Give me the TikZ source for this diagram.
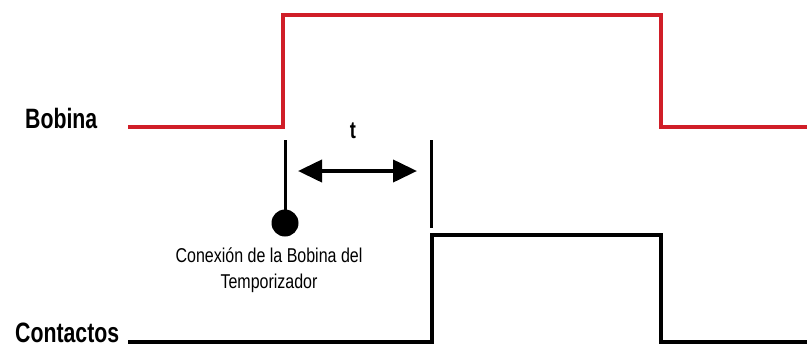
\documentclass[tikz,border=0pt]{standalone}
\usepackage{fontspec}
\setmainfont{Liberation Sans}
\newfontfamily\labelfont[FakeStretch=0.76]{Liberation Sans Bold}
\newfontfamily\notefont[FakeStretch=0.8]{Liberation Sans}
\usetikzlibrary{arrows.meta,positioning}
\definecolor{coilred}{RGB}{208,30,40}

\begin{document}
\begin{tikzpicture}[x=1pt,y=-1pt,
  signal/.style={line width=4pt, line join=miter},
  marker/.style={line width=3pt},
  siglabel/.style={font=\labelfont\fontsize{28}{30}\selectfont, inner sep=0pt, anchor=base west}]

\useasboundingbox (0,0) rectangle (807,349);

 % Nodes

\node[siglabel] (bobina) at (25,128) {Bobina};
\node[siglabel] (contactos) at (15,342) {Contactos};

\coordinate (b0) at (128,127);
\coordinate (b1) at (283,127);
\coordinate (b2) at (283,15);
\coordinate (b3) at (661,15);
\coordinate (b4) at (661,127);
\coordinate (b5) at (807,127);

\coordinate (c0) at (128,342);
\coordinate (c1) at (432,342);
\coordinate (c2) at (432,235);
\coordinate (c3) at (661,235);
\coordinate (c4) at (661,342);
\coordinate (c5) at (807,342);

\coordinate (m1) at (285,140);
\node[circle, fill=black, minimum size=27pt, inner sep=0pt] (dot) at (285,223) {};
\coordinate (m2) at (431,140);
\coordinate (m3) at (431,228);

\coordinate (a1) at (298,171);
\coordinate (a2) at (417,171);
\node[font=\labelfont\fontsize{24}{26}\selectfont, inner sep=0pt, anchor=base] (t) at (353,138) {t};

\node[font=\notefont\fontsize{20}{26}\selectfont, align=center, inner sep=0pt, anchor=base] (nota) at (269,288)
  {Conexión de la Bobina del\\Temporizador};

% Connect nodes
\draw[signal, coilred] (b0) -- (b1) -- (b2) -- (b3) -- (b4) -- (b5);
\draw[signal, black] (c0) -- (c1) -- (c2) -- (c3) -- (c4) -- (c5);

\draw[marker] (m1) -- (dot.center);
\draw[marker] (m2) -- (m3);
\draw[line width=4pt, {Triangle[length=24pt,width=22pt]}-{Triangle[length=24pt,width=22pt]}] (a1) -- (a2);

\end{tikzpicture}
\end{document}
